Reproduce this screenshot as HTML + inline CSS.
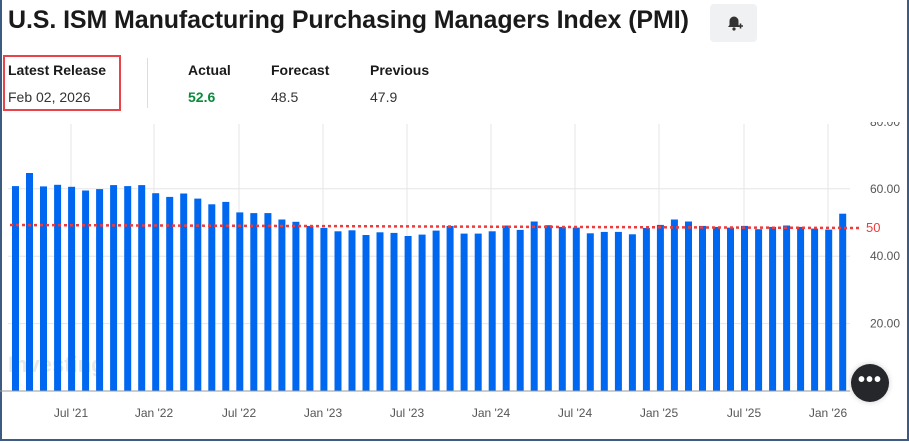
<!DOCTYPE html>
<html><head><meta charset="utf-8"><style>
html,body{margin:0;padding:0;background:#fff;}
body{width:909px;height:443px;position:relative;overflow:hidden;font-family:"Liberation Sans",Arial,sans-serif;}
.frame{position:absolute;left:0;top:0;width:905px;height:439px;border:2px solid #3d5a80;border-top:none;border-right:2px solid #3d5a80;}
.t{position:absolute;white-space:nowrap;}
</style></head><body>
<div class="frame"></div>
<svg id="c" style="position:absolute;left:0;top:0" width="909" height="443"></svg>
<div style="position:absolute;left:2px;top:0;width:905px;height:122px;background:#fff;"></div>
<div class="t" style="left:8px;top:6px;font-size:25px;font-weight:bold;color:#1a1a1a;letter-spacing:-0.1px;">U.S. ISM Manufacturing Purchasing Managers Index (PMI)</div>
<div style="position:absolute;left:710px;top:4px;width:47px;height:38px;background:#f0f1f3;border-radius:4px;"></div>
<svg style="position:absolute;left:724px;top:13px" width="20" height="20" viewBox="0 0 20 20"><path d="M4 14 L5.5 12 V8 a4.5 4.5 0 0 1 9 0 V12 L16 14 Z" fill="#333"/><circle cx="10" cy="16" r="1.6" fill="#333"/><path d="M14 13h5M16.5 10.5v5" stroke="#333" stroke-width="1.6" fill="#f0f1f3"/></svg>
<div style="position:absolute;left:3px;top:55px;width:114px;height:52px;border:2px solid #e8434b;"></div>
<div class="t" style="left:8px;top:62px;font-size:14px;color:#1a1a1a;font-weight:bold;">Latest Release</div>
<div class="t" style="left:8px;top:89px;font-size:14px;color:#333;">Feb 02, 2026</div>
<div style="position:absolute;left:147px;top:58px;width:1px;height:50px;background:#ddd;"></div>
<div class="t" style="left:188px;top:62px;font-size:14px;color:#1a1a1a;font-weight:bold;">Actual</div>
<div class="t" style="left:188px;top:89px;font-size:14px;color:#0a8a3a;font-weight:bold;">52.6</div>
<div class="t" style="left:271px;top:62px;font-size:14px;color:#1a1a1a;font-weight:bold;">Forecast</div>
<div class="t" style="left:271px;top:89px;font-size:14px;color:#333;">48.5</div>
<div class="t" style="left:370px;top:62px;font-size:14px;color:#1a1a1a;font-weight:bold;">Previous</div>
<div class="t" style="left:370px;top:89px;font-size:14px;color:#333;">47.9</div>
<div style="position:absolute;left:851px;top:364px;width:38px;height:38px;border-radius:50%;background:#25272b;box-shadow:0 0 6px rgba(0,0,0,0.2);color:#fff;font-size:20px;text-align:center;line-height:32px;font-weight:bold;letter-spacing:1px;">•••</div>
<script>
var v=[60.8,64.7,60.7,61.2,60.6,59.5,59.9,61.1,60.8,61.1,58.7,57.6,58.6,57.1,55.4,56.1,53.0,52.8,52.8,50.9,50.2,49.0,48.4,47.4,47.7,46.3,47.1,46.9,46.0,46.4,47.6,49.0,46.7,46.7,47.4,49.1,47.8,50.3,49.2,48.7,48.5,46.8,47.2,47.2,46.5,48.4,49.3,50.9,50.3,49.0,48.7,48.5,49.0,48.0,48.7,49.1,48.7,48.2,47.9,52.6];
var s='';var k=3.37,b=391;
[[60,"60.00"],[40,"40.00"],[20,"20.00"]].forEach(function(g){var y=b-g[0]*k;s+='<line x1="8" x2="850" y1="'+y+'" y2="'+y+'" stroke="#e6e6e6"/>';s+='<text x="870" y="'+(y+4)+'" font-size="12" fill="#555" font-family="Liberation Sans">'+g[1]+'</text>';});
s+='<text x="870" y="126" font-size="12" fill="#555" font-family="Liberation Sans">80.00</text>';
var xl=[[71,"Jul '21"],[154,"Jan '22"],[239,"Jul '22"],[323,"Jan '23"],[407,"Jul '23"],[491,"Jan '24"],[575,"Jul '24"],[659,"Jan '25"],[744,"Jul '25"],[828,"Jan '26"]];
xl.forEach(function(a){s+='<line x1="'+a[0]+'" x2="'+a[0]+'" y1="124" y2="391" stroke="#e6e6e6"/>';s+='<text x="'+a[0]+'" y="417" text-anchor="middle" font-size="12" fill="#555" font-family="Liberation Sans">'+a[1]+'</text>';});
s+='<text x="8" y="372" font-size="22" font-weight="bold" fill="#e8e8e8" font-family="Liberation Sans">Investing</text>';
v.forEach(function(d,i){var x=15.5+14.02*i-3.5;s+='<rect x="'+x.toFixed(1)+'" y="'+(b-d*k).toFixed(1)+'" width="7" height="'+(d*k).toFixed(1)+'" fill="#0068f0"/>';});
s+='<line x1="0" x2="850" y1="391" y2="391" stroke="#999"/>';
s+='<line x1="10" x2="860" y1="225" y2="228" stroke="#ef3b3b" stroke-width="2.5" stroke-dasharray="3,3"/>';
s+='<text x="866" y="232" font-size="13" fill="#ef3b3b" font-family="Liberation Sans">50</text>';
document.getElementById('c').innerHTML=s;
</script>
</body></html>
